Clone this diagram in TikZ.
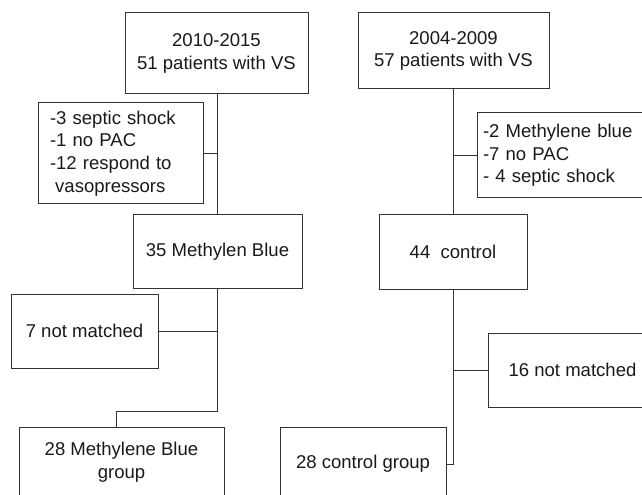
\documentclass[tikz,border=0pt]{standalone}
\usepackage{fontspec}
\setmainfont{Liberation Sans}

\begin{document}
\begin{tikzpicture}[x=0.75pt, y=-0.75pt, line width=0.75pt, every node/.style={font=\fontsize{13.9}{17}\selectfont, text=black!90}, bx/.style={draw=black!80, align=center, inner sep=0pt}, ex/.style={draw=black!80, align=left, inner ysep=0pt}, ln/.style={draw=black!80}]
	\clip (0,0) rectangle (642,495);
	% methylene blue cohort
	\node[bx, minimum width=137.25pt, minimum height=60.75pt] (mb0) at (216.5,53.5) {2010-2015\\51 patients with VS};
	\node[ex, inner xsep=9pt, text width=105.75pt, minimum height=75.75pt] (mbx) at (120.5,153.5) {-3 septic shock\\-1 no PAC\\-12 respond to\\\hspace*{0.28em}vasopressors};
	\node[bx, minimum width=126.75pt, minimum height=54.75pt] (mb1) at (217.5,251.5) {35 Methylen Blue};
	\node[bx, minimum width=110.25pt, minimum height=55.5pt] (mbn) at (84.5,331) {7 not matched};
	\node[bx, minimum width=153.75pt, minimum height=52.5pt] (mb2) at (121.5,462) {28 Methylene Blue\\group};
	\coordinate (mbk) at (116,411);
	% control cohort
	\node[bx, minimum width=143.25pt, minimum height=57pt] (ct0) at (453.5,51) {2004-2009\\57 patients with VS};
	\node[ex, inner xsep=4.5pt, text width=118.5pt, minimum height=63.75pt] (ctx) at (562,155.5) {-2 Methylene blue\\-7 no PAC\\- 4 septic shock};
	\node[bx, minimum width=111pt, minimum height=55.5pt] (ct1) at (453,252) {44\ \ control};
	\node[bx, minimum width=126.75pt, minimum height=55.5pt] (ctn) at (572.5,370) {16 not matched};
	\node[bx, minimum width=124.5pt, minimum height=55.5pt] (ct2) at (363,464) {28 control group};
	% flow lines
	\draw[ln] (mb0.south -| mb1.north) -- (mb1.north);
	\draw[ln] (mbx.east) -- (mbx.east -| mb1.north);
	\draw[ln] (mb1.south) |- (mbk) -- (mbk |- mb2.north);
	\draw[ln] (mbn.east) -- (mbn.east -| mb1.south);
	\draw[ln] (ct0.south -| ct1.north) -- (ct1.north);
	\draw[ln] (ctx.west) -- (ctx.west -| ct1.north);
	\draw[ln] (ct1.south) |- (ct2.east);
	\draw[ln] (ctn.west) -- (ctn.west -| ct1.south);
\end{tikzpicture}
\end{document}
